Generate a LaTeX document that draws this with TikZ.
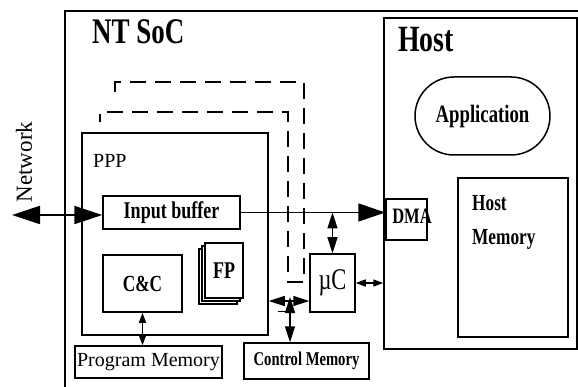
\documentclass[tikz,border=0pt]{standalone}
\usepackage{fontspec}
\setmainfont{Liberation Serif}
\newfontfamily\narrowfont[FakeStretch=0.75]{Liberation Serif}
\usetikzlibrary{arrows.meta,shadows}

\tikzset{
  blk/.style={draw,line width=1.5pt,inner sep=0pt,align=center},
  bfn/.style={font=\narrowfont\bfseries\fontsize{#1}{#1}\selectfont},
  big/.style={line width=1.8pt,{Triangle[length=28pt,width=18pt]}-{Triangle[length=28pt,width=18pt]}},
  bus/.style={line width=1.8pt,-{Triangle[length=27pt,width=18pt]}},
  mid/.style={line width=1.5pt,{Triangle[length=16pt,width=10pt]}-{Triangle[length=16pt,width=10pt]}},
  sml/.style={line width=1.3pt,{Triangle[length=10pt,width=7pt]}-{Triangle[length=10pt,width=7pt]}},
}

\begin{document}
\begin{tikzpicture}[x=1pt,y=-1pt]
\useasboundingbox (0,0) rectangle (578,387);
% outer SoC frame
\draw[line width=1.5pt] (578,11) -- (65,11) -- (65,387);
\node[anchor=base west,bfn=36,inner sep=0pt] (soc) at (92,44) {NT SoC};
% dashed paths
\draw[line width=1.1pt,dash pattern=on 16pt off 9pt] (115,92) -- (115,82) -- (304,82) -- (304,282) -- (288,282) -- (288,112) -- (100,112) -- (100,122);

% host side
\node[blk,minimum width=193,minimum height=331] (host) at (480.5,183.5) {};
\node[anchor=base west,bfn=37,inner sep=0pt] (hostlbl) at (398,52) {Host};
\node[blk,bfn=25,minimum width=135,minimum height=78,rounded corners=39pt] (app) at (482.5,116) {Application};
\node[blk,minimum width=110,minimum height=159] (hm) at (513,257.5) {};
\node[anchor=north west,inner sep=0pt,align=left,font=\narrowfont\bfseries\fontsize{23}{34}\selectfont] (hmlbl) at (472,195) {Host\\Memory};
\node[blk,minimum width=41,minimum height=41] (dma) at (406.5,219.5) {};
\node[bfn=22,inner sep=0pt] (dmalbl) at (412,216.5) {DMA};

% PPP
\node[blk,minimum width=186,minimum height=202] (ppp) at (175,234) {};
\node[anchor=base west,inner sep=0pt,font=\fontsize{20}{20}\selectfont] (ppplbl) at (93,168) {PPP};
\node[blk,bfn=24,minimum width=137,minimum height=33] (ib) at (171.5,212.5) {Input buffer};
\node[blk,bfn=23,minimum width=79,minimum height=57] (cc) at (142.5,283.5) {C\&C};
\node[blk,bfn=24,fill=white,minimum width=38,minimum height=55,
  double copy shadow={shadow xshift=-3pt,shadow yshift=-3pt}] (fp) at (224,270.5) {FP};

% memories and controller
\node[blk,minimum width=147,minimum height=32,font=\fontsize{20}{20}\selectfont] (pm) at (148.5,362) {Program Memory};
\node[blk,bfn=19.5,minimum width=125,minimum height=36] (cm) at (306.5,361) {Control Memory};
\node[blk,minimum width=45,minimum height=58,font=\narrowfont\fontsize{30}{30}\selectfont] (muc) at (332.5,283) {µC};

% network
\coordinate (net) at (12,215);
\node[rotate=90,font=\fontsize{23}{23}\selectfont] (netlbl) at (24,162) {Network};
\draw[big] (net) -- (net -| ib.west);

% connections
\draw[bus] (ib.east) -- (ib.east -| dma.west);
\draw[mid] (muc.north) -- (muc.north |- ib.east);
\draw[sml] (muc.east) -- (muc.east -| host.west);
\coordinate (junc) at (290,301);
\draw[mid] (junc -| ppp.east) -- (junc -| muc.west);
\draw[mid] (290,297) -- (junc |- cm.north);
\draw[line width=1pt] (278,311) -- (290,311);
\draw[sml] (cc.south) -- (cc.south |- pm.north);
\end{tikzpicture}
\end{document}
